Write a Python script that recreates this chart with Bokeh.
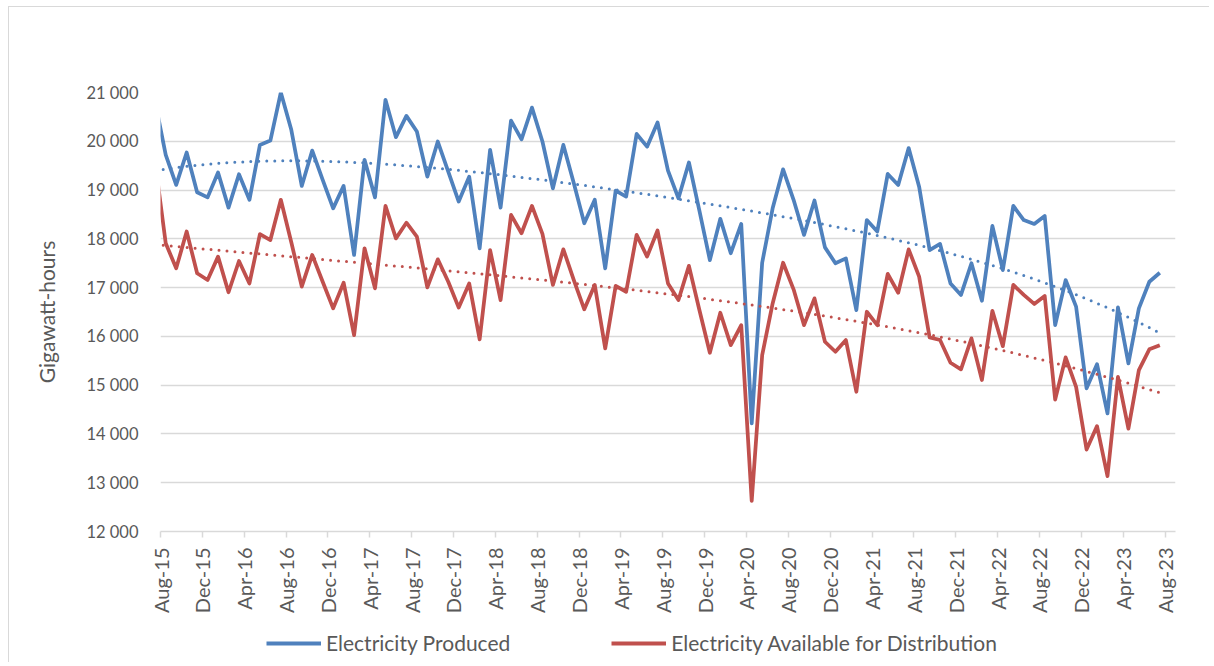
import numpy as np
import pandas as pd
from bokeh.plotting import figure
from bokeh.layouts import column
from bokeh.models import Range1d, FixedTicker, Legend, LegendItem
from bokeh.embed import file_html
from bokeh.resources import INLINE

# Months (Jul-15 is partly outside the visible axis, which starts at Aug-15)
months = [d.strftime("%b-%y") for d in pd.period_range("2015-07", "2023-07", freq="M")]

# Gigawatt-hours
produced = [20800,
    19720, 19105, 19770, 18955, 18850, 19360, 18640, 19325, 18800, 19925, 20015, 21000,
    20235, 19085, 19810, 19210, 18625, 19085, 17670, 19620, 18850, 20850, 20085, 20520,
    20200, 19275, 19995, 19380, 18765, 19275, 17805, 19825, 18640, 20425, 20040, 20690,
    19995, 19035, 19925, 19140, 18320, 18800, 17395, 18990, 18865, 20150, 19890, 20385,
    19400, 18830, 19565, 18580, 17565, 18410, 17705, 18305, 14215, 17510, 18625, 19425,
    18800, 18080, 18785, 17825, 17500, 17600, 16540, 18385, 18150, 19330, 19105, 19860,
    19070, 17770, 17895, 17085, 16850, 17500, 16730, 18265, 17360, 18675, 18385, 18305,
    18470, 16230, 17155, 16610, 14935, 15430, 14420, 16595, 15445, 16575, 17120, 17305]

available = [19550,
    17910, 17395, 18150, 17295, 17155, 17635, 16905, 17545, 17085, 18095, 17975, 18800,
    17930, 17020, 17670, 17120, 16575, 17100, 16025, 17805, 16985, 18675, 18010, 18330,
    18045, 17005, 17580, 17120, 16590, 17085, 15940, 17770, 16745, 18490, 18115, 18675,
    18100, 17055, 17785, 17155, 16555, 17055, 15755, 17035, 16915, 18080, 17635, 18170,
    17085, 16745, 17445, 16540, 15665, 16485, 15820, 16230, 12630, 15615, 16675, 17510,
    16965, 16230, 16780, 15890, 15685, 15925, 14865, 16505, 16230, 17280, 16895, 17785,
    17225, 15980, 15925, 15460, 15325, 15960, 15105, 16525, 15800, 17055, 16850, 16665,
    16830, 14705, 15570, 14965, 13680, 14160, 13135, 15170, 14110, 15310, 15735, 15820]

tick_labels = ["Aug-15", "Dec-15", "Apr-16", "Aug-16", "Dec-16", "Apr-17", "Aug-17",
               "Dec-17", "Apr-18", "Aug-18", "Dec-18", "Apr-19", "Aug-19", "Dec-19",
               "Apr-20", "Aug-20", "Dec-20", "Apr-21", "Aug-21", "Dec-21", "Apr-22",
               "Aug-22", "Dec-22", "Apr-23", "Aug-23"]
y_ticks = [12000, 13000, 14000, 15000, 16000, 17000, 18000, 19000, 20000, 21000]
y_tick_labels = ["12 000", "13 000", "14 000", "15 000", "16 000", "17 000",
                 "18 000", "19 000", "20 000", "21 000"]

series_names = ["Electricity Produced", "Electricity Available for Distribution"]
colors = ["#4f81bd", "#c0504d"]

FONT = "Lato"
TXT = "#595959"

# month index relative to the Aug-15 boundary, point placed mid-month
x = np.arange(len(months)) - months.index("Aug-15") + 0.5
tick_pos = [4 * i for i in range(len(tick_labels))]

p = figure(width=1200, height=613, x_range=Range1d(0, 97), y_range=Range1d(12000, 21000),
           output_backend="svg", toolbar_location=None,
           min_border_left=151, min_border_right=34, min_border_top=85, min_border_bottom=89)
p.outline_line_color = None
p.background_fill_color = "white"
p.border_fill_color = "white"

# axes
p.yaxis.ticker = FixedTicker(ticks=y_ticks)
p.yaxis.major_label_overrides = {t: l for t, l in zip(y_ticks, y_tick_labels)}
p.yaxis.axis_line_color = None
p.yaxis.major_tick_line_color = None
p.yaxis.minor_tick_line_color = None
p.yaxis.major_label_standoff = 16
p.yaxis.major_label_text_font = FONT
p.yaxis.major_label_text_font_size = "16.5px"
p.yaxis.major_label_text_color = TXT
p.yaxis.axis_label = "Gigawatt-hours"
p.yaxis.axis_label_text_font = FONT
p.yaxis.axis_label_text_font_size = "21px"
p.yaxis.axis_label_text_font_style = "normal"
p.yaxis.axis_label_text_color = TXT
p.yaxis.axis_label_standoff = 24

p.xaxis.ticker = FixedTicker(ticks=tick_pos)
p.xaxis.major_label_overrides = {t: l for t, l in zip(tick_pos, tick_labels)}
p.xaxis.major_label_orientation = np.pi / 2
p.xaxis.axis_line_color = "#d9d9d9"
p.xaxis.axis_line_width = 1.5
p.xaxis.major_tick_line_color = "#d9d9d9"
p.xaxis.major_tick_line_width = 1.5
p.xaxis.major_tick_out = 6
p.xaxis.major_tick_in = 0
p.xaxis.minor_tick_line_color = None
p.xaxis.major_label_standoff = 10
p.xaxis.major_label_text_font = FONT
p.xaxis.major_label_text_font_size = "20px"
p.xaxis.major_label_text_color = TXT

p.xgrid.grid_line_color = None
p.ygrid.ticker = FixedTicker(ticks=y_ticks)
p.ygrid.grid_line_color = "#d9d9d9"
p.ygrid.grid_line_width = 1.5

# legend lives in a thin strip below the chart
p2 = figure(width=1200, height=42, x_range=Range1d(0, 1), y_range=Range1d(0, 1),
            output_backend="svg", toolbar_location=None,
            min_border_left=0, min_border_right=0, min_border_top=0, min_border_bottom=0)
p2.axis.visible = False
p2.grid.grid_line_color = None
p2.outline_line_color = None

items = []
for vals, name, col in zip([produced, available], series_names, colors):
    p.line(x, vals, color=col, line_width=3.75, line_join="round")
    coef = np.polyfit(x, vals, 4)
    xs = np.linspace(x[0], x[-1], 400)
    p.line(xs, np.polyval(coef, xs), color=col, line_width=3, line_dash="0 8", line_cap="round")
    dummy = p2.line([-5, -4], [0, 0], color=col, line_width=4)
    items.append(LegendItem(label=name, renderers=[dummy]))

legend = Legend(items=items, orientation="horizontal", location=(106, 7),
                glyph_width=55, glyph_height=20, label_standoff=5, spacing=101,
                padding=0, margin=0, border_line_color=None, background_fill_alpha=0,
                label_text_font=FONT, label_text_font_size="21px", label_text_color=TXT)
p2.add_layout(legend, "center")

layout = column(p, p2, styles={"margin-left": "8px", "margin-top": "6px",
                               "border-left": "1px solid #d9d9d9",
                               "border-top": "1px solid #d9d9d9"})

open("out.html", "w").write(file_html(layout, INLINE))
